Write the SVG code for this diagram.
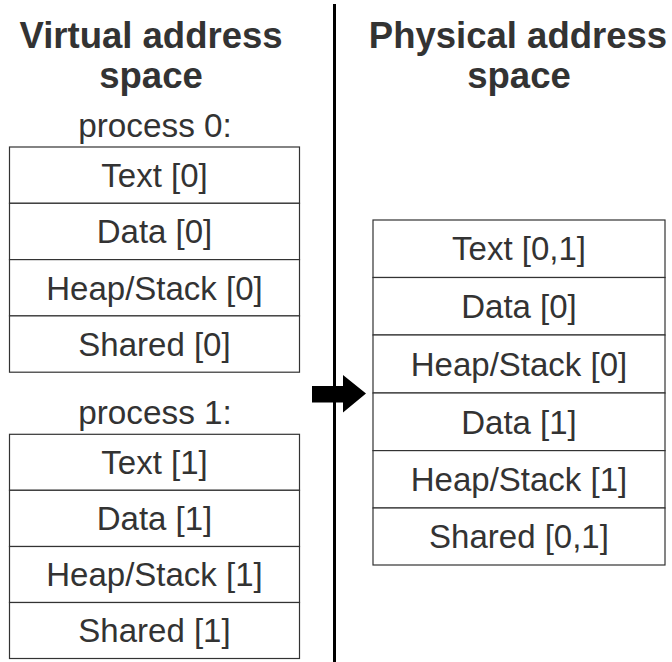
<svg xmlns="http://www.w3.org/2000/svg" width="672" height="662" viewBox="0 0 672 662">
<style>
.title{font-family:"Liberation Sans",Arial,sans-serif;font-weight:bold;font-size:36.5px;fill:#333;text-anchor:middle}
.plabel{font-family:"Liberation Sans",Arial,sans-serif;font-size:33.3px;fill:#333;text-anchor:middle}
.cell{fill:#fff;stroke:#333;stroke-width:1.2}
.ct{font-family:"Liberation Sans",Arial,sans-serif;font-size:33px;fill:#333;text-anchor:middle}
</style>
<rect width="672" height="662" fill="#fff"/>
<g id="title-virtual">
<text class="title" x="151" y="47.5">Virtual address</text>
<text class="title" x="151" y="88">space</text>
</g>
<g id="title-physical">
<text class="title" x="518" y="47.5">Physical address</text>
<text class="title" x="519" y="88">space</text>
</g>
<g id="divider"><line x1="334.5" y1="4" x2="334.5" y2="662" stroke="#000" stroke-width="3"/></g>
<g id="process0">
<text class="plabel" x="155" y="137">process 0:</text>
<rect class="cell" x="9.5" y="147" width="290" height="56.3"/>
<text class="ct" x="154.5" y="186.7">Text [0]</text>
<rect class="cell" x="9.5" y="203.3" width="290" height="56.3"/>
<text class="ct" x="154.5" y="243.2">Data [0]</text>
<rect class="cell" x="9.5" y="259.6" width="290" height="56.3"/>
<text class="ct" x="154.5" y="299.5">Heap/Stack [0]</text>
<rect class="cell" x="9.5" y="315.9" width="290" height="56.3"/>
<text class="ct" x="154.5" y="355.7">Shared [0]</text>
</g>
<g id="process1">
<text class="plabel" x="155" y="424">process 1:</text>
<rect class="cell" x="9.5" y="434.3" width="290" height="56"/>
<text class="ct" x="154.5" y="474">Text [1]</text>
<rect class="cell" x="9.5" y="490.3" width="290" height="56.2"/>
<text class="ct" x="154.5" y="530.1">Data [1]</text>
<rect class="cell" x="9.5" y="546.5" width="290" height="56"/>
<text class="ct" x="154.5" y="586.2">Heap/Stack [1]</text>
<rect class="cell" x="9.5" y="602.5" width="290" height="56"/>
<text class="ct" x="154.5" y="642.2">Shared [1]</text>
</g>
<g id="physical">
<rect class="cell" x="373" y="220" width="292" height="57.5"/>
<text class="ct" x="519" y="260.4">Text [0,1]</text>
<rect class="cell" x="373" y="277.5" width="292" height="57.5"/>
<text class="ct" x="519" y="317.9">Data [0]</text>
<rect class="cell" x="373" y="335" width="292" height="58"/>
<text class="ct" x="519" y="375.6">Heap/Stack [0]</text>
<rect class="cell" x="373" y="393" width="292" height="57.6"/>
<text class="ct" x="519" y="433.5">Data [1]</text>
<rect class="cell" x="373" y="450.6" width="292" height="57.4"/>
<text class="ct" x="519" y="491">Heap/Stack [1]</text>
<rect class="cell" x="373" y="508" width="292" height="57"/>
<text class="ct" x="519" y="548.2">Shared [0,1]</text>
</g>
<g id="connectors">
<polygon points="312,386 343,386 343,375 366,393.5 343,412.5 343,402.5 312,402.5" fill="#000"/>
</g>
</svg>
